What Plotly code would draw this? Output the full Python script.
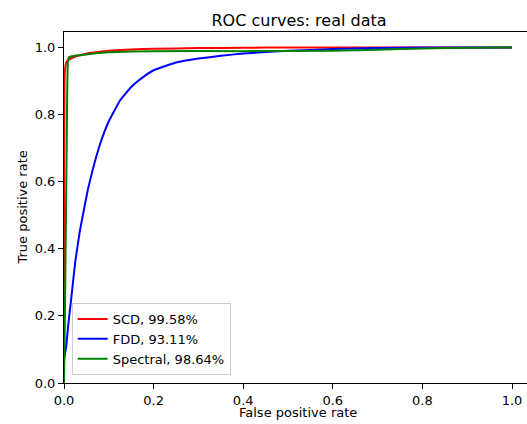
import plotly.graph_objects as go

# ---- data ----
scd_fpr = [0.0, 0.0, 0.001, 0.002, 0.004, 0.006, 0.01, 0.02, 0.03, 0.045, 0.06, 0.08, 0.1, 0.15, 0.2, 0.3, 0.4, 0.5, 0.7, 1.0]
scd_tpr = [0.0, 0.5, 0.88, 0.93, 0.95, 0.958, 0.963, 0.97, 0.975, 0.98, 0.984, 0.987, 0.99, 0.994, 0.996, 0.998, 0.999, 1.0, 1.0, 1.0]

fdd_fpr = [0.0, 0.005, 0.01, 0.016, 0.025, 0.035, 0.045, 0.053, 0.065, 0.08, 0.1, 0.125, 0.15, 0.175, 0.2, 0.25, 0.3, 0.35, 0.4, 0.5, 0.6, 0.7, 0.8, 0.9, 1.0]
fdd_tpr = [0.07, 0.11, 0.18, 0.25, 0.36, 0.45, 0.52, 0.575, 0.64, 0.71, 0.78, 0.842, 0.882, 0.91, 0.932, 0.955, 0.967, 0.975, 0.982, 0.99, 0.995, 0.998, 1.0, 1.0, 1.0]

spec_fpr = [0.0, 0.002, 0.004, 0.006, 0.007, 0.008, 0.009, 0.011, 0.015, 0.03, 0.05, 0.07, 0.1, 0.2, 0.4, 0.6, 0.7, 0.8, 0.9, 1.0]
spec_tpr = [0.0, 0.2, 0.45, 0.7, 0.85, 0.93, 0.962, 0.97, 0.973, 0.976, 0.979, 0.983, 0.986, 0.989, 0.989, 0.99, 0.993, 0.997, 0.999, 1.0]

series_names = ["SCD, 99.58%", "FDD, 93.11%", "Spectral, 98.64%"]
series_colors = ["#ff0000", "#0000ff", "#008000"]

x_ticks = [0.0, 0.2, 0.4, 0.6, 0.8, 1.0]
y_ticks = [0.0, 0.2, 0.4, 0.6, 0.8, 1.0]

x_label = "False positive rate"
y_label = "True positive rate"
title_text = "ROC curves: real data"

FONT = "DejaVu Sans"
W, H = 527, 424
L, R, T, B = 64, 0, 32, 41

fig = go.Figure()
for xs, ys, name, col in zip([scd_fpr, fdd_fpr, spec_fpr],
                             [scd_tpr, fdd_tpr, spec_tpr],
                             series_names, series_colors):
    fig.add_trace(go.Scatter(x=xs, y=ys, mode="lines", name=name,
                             line=dict(color=col, width=2, shape="spline", smoothing=0.3)))

fig.update_layout(
    width=W, height=H,
    margin=dict(l=L, r=R, t=T, b=B, autoexpand=False),
    paper_bgcolor="white", plot_bgcolor="white",
    font=dict(family=FONT, size=13, color="black"),
    title=dict(text=title_text, x=299 / W, xanchor="center",
               y=1 - 20 / H, yanchor="middle", yref="container",
               font=dict(family=FONT, size=16, color="black")),
    showlegend=True,
    legend=dict(x=0.0166, y=0.023, xanchor="left", yanchor="bottom",
                bgcolor="rgba(255,255,255,0.8)", bordercolor="#cccccc", borderwidth=1,
                font=dict(family=FONT, size=13, color="black"),
                itemwidth=30, tracegroupgap=0),
    annotations=[
        dict(text=x_label, xref="paper", yref="paper", x=(298 - L) / (W - L - R),
             y=-(413 - (H - B)) / (H - T - B), xanchor="center", yanchor="middle",
             showarrow=False, font=dict(family=FONT, size=13, color="black")),
        dict(text=y_label, xref="paper", yref="paper", x=-(L - 22) / (W - L - R),
             y=0.5, xanchor="center", yanchor="middle", textangle=-90,
             showarrow=False, font=dict(family=FONT, size=13, color="black")),
    ],
)

fig.update_xaxes(range=[0, 463 / 448], tickvals=x_ticks, ticktext=[f"{v:.1f}" for v in x_ticks],
                 automargin=False,
                 showgrid=False, zeroline=False, showline=True, linecolor="black", linewidth=1,
                 mirror=True, ticks="outside", ticklen=5, tickwidth=1, tickcolor="black")
fig.update_yaxes(range=[0, 1.046], tickvals=y_ticks, ticktext=[f"{v:.1f}" for v in y_ticks],
                 automargin=False,
                 showgrid=False, zeroline=False, showline=True, linecolor="black", linewidth=1,
                 mirror=False, ticks="outside", ticklen=5, tickwidth=1, tickcolor="black")

fig.write_html("out.html", config={"displayModeBar": False},
               post_script="document.body.style.margin='0';document.body.style.overflow='hidden';")
